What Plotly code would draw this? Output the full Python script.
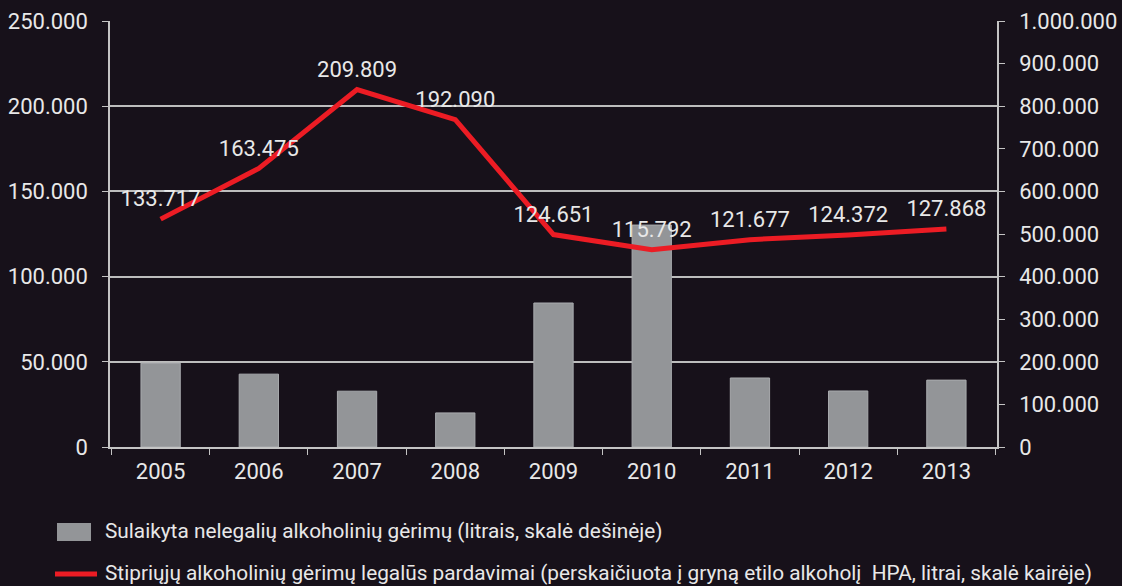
import plotly.graph_objects as go

years = ["2005", "2006", "2007", "2008", "2009", "2010", "2011", "2012", "2013"]
legal_sales = [133717, 163475, 209809, 192090, 124651, 115792, 121677, 124372, 127868]
seized_illegal = [197000, 171000, 131000, 80000, 338000, 521000, 162000, 131500, 157000]

bar_name = "Sulaikyta nelegalių alkoholinių gėrimų (litrais, skalė dešinėje)"
line_name = "Stipriųjų alkoholinių gėrimų legalūs pardavimai (perskaičiuota į gryną etilo alkoholį\u00a0 HPA, litrai, skalė kairėje)"

BG = "#17111a"
TXT = "#e8e8e8"
AX = "#c4c4c4"
BAR = "#939598"
RED = "#ec1c24"
FONT = "Roboto"

fig = go.Figure()
fig.add_trace(go.Bar(
    x=years, y=seized_illegal, name=bar_name, yaxis="y",
    marker=dict(color=BAR, line=dict(color="#a9abae", width=1)),
    hoverinfo="skip", showlegend=False,
))
fig.add_trace(go.Scatter(
    x=years, y=legal_sales, name=line_name, yaxis="y2",
    mode="lines+markers+text", line=dict(color=RED, width=5),
    marker=dict(size=10, color="rgba(0,0,0,0)"),
    text=legal_sales, texttemplate="%{y:,}", textposition="top center",
    textfont=dict(color=TXT, size=22, family=FONT),
    cliponaxis=False, showlegend=False,
))

# plot area: x 110..997 px, y 21..447 px
def px(x):
    return (x - 110) / 887.0

def py(y):
    return (447 - y) / 426.0

shapes = [
    dict(type="rect", xref="paper", yref="paper", x0=px(57), x1=px(91), y0=py(541), y1=py(523),
         fillcolor=BAR, line=dict(width=0)),
    dict(type="line", xref="paper", yref="paper", x0=px(55), x1=px(97), y0=py(574), y1=py(574),
         line=dict(color=RED, width=5)),
]
annotations = [
    dict(xref="paper", yref="paper", x=px(103), y=py(531), xanchor="left", yanchor="middle",
         text=bar_name, showarrow=False, font=dict(size=20.8, color=TXT, family=FONT)),
    dict(xref="paper", yref="paper", x=px(103), y=py(573), xanchor="left", yanchor="middle",
         text=line_name, showarrow=False, font=dict(size=20.8, color=TXT, family=FONT)),
]

fig.update_layout(
    width=1122, height=586,
    paper_bgcolor=BG, plot_bgcolor=BG,
    separators=",.",
    margin=dict(l=110, r=125, t=21, b=139, autoexpand=False),
    font=dict(family=FONT, color=TXT, size=22),
    bargap=0.6,
    showlegend=False,
    shapes=shapes,
    annotations=annotations,
    xaxis=dict(
        type="category", tickson="boundaries", ticks="outside", ticklen=6,
        tickcolor=AX, showline=True, linecolor=AX, linewidth=1.5,
        showgrid=False, tickfont=dict(size=22), ticklabelstandoff=4,
    ),
    yaxis=dict(
        side="right", range=[0, 1000000], dtick=100000, tickformat=",d",
        ticks="outside", ticklen=6, tickcolor=AX, showline=True, linecolor=AX,
        linewidth=1.5, showgrid=False, zeroline=False, tickfont=dict(size=22),
        ticklabelstandoff=10,
    ),
    yaxis2=dict(
        side="left", overlaying="y", range=[0, 250000], dtick=50000, tickformat=",d",
        ticks="outside", ticklen=6, tickcolor=AX, showline=True, linecolor=AX,
        linewidth=1.5, showgrid=True, gridcolor="#bdbdbd", gridwidth=1.5,
        zeroline=False, tickfont=dict(size=22), ticklabelstandoff=10,
    ),
)

fig.write_html(
    "out.html",
    config={"displayModeBar": False},
    post_script="document.body.style.margin='0';document.body.style.background='#17111a';document.body.style.overflow='hidden';",
)
